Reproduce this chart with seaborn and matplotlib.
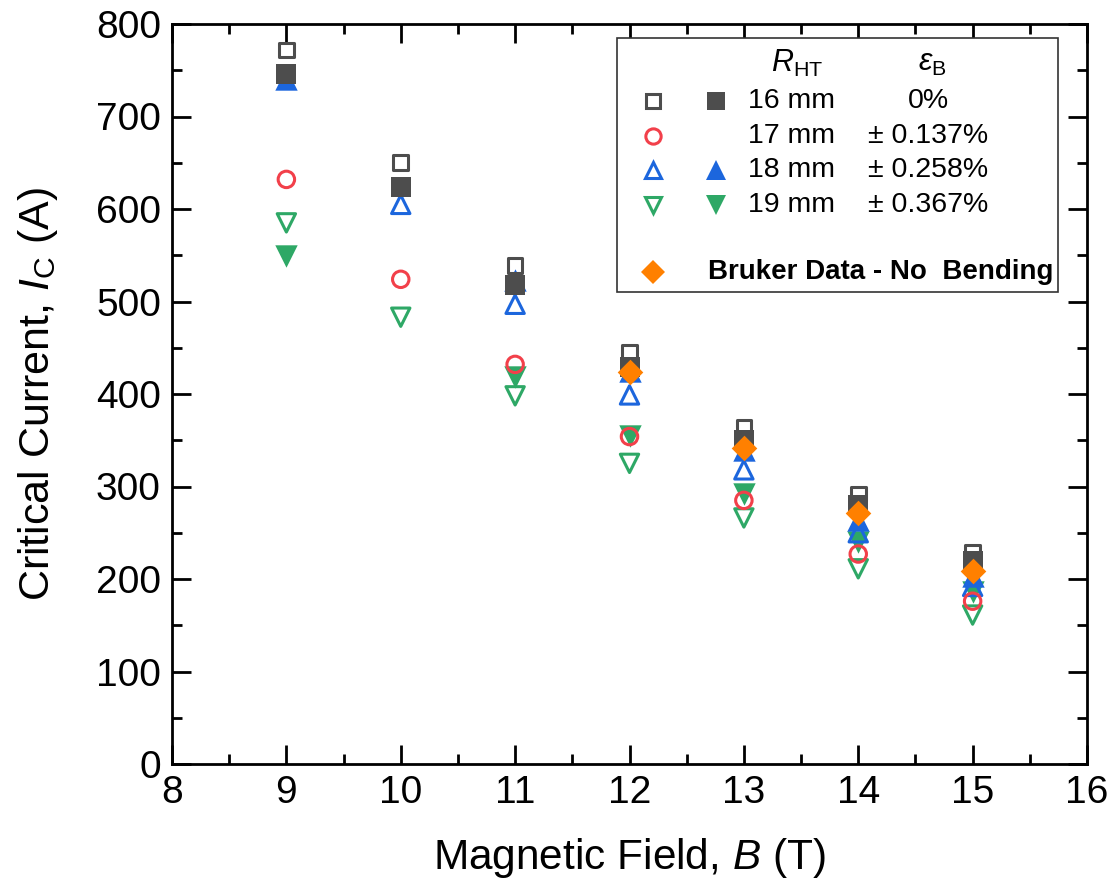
import numpy as np
import matplotlib
matplotlib.use("Agg")
import matplotlib.pyplot as plt
import seaborn as sns
from matplotlib.lines import Line2D
from matplotlib.patches import Rectangle
from matplotlib.ticker import MultipleLocator

# ---------------- data ----------------
field = [9, 10, 11, 12, 13, 14, 15]
nan = np.nan
r16_open = [772, 650, 539, 445, 364, 292, 229]
r16_filled = [746, 624, 518, 429, 350, 280, 220]
r17_open = [632, 524, 432, 354, 285, 227, 176]
r18_open = [nan, 605, 497, 399, 318, 250, 192]
r18_filled = [741, nan, 523, 425, 340, 264, 203]
r19_open = [585, 483, 398, 325, 266, 211, 161]
r19_filled = [549, nan, 418, 355, 292, 240, 186]
bruker_field = [12, 13, 14, 15]
bruker = [424, 342, 271, 209]

legend_radius = ["16 mm", "17 mm", "18 mm", "19 mm"]
legend_strain = ["0%", "\u00b1 0.137%", "\u00b1 0.258%", "\u00b1 0.367%"]

# ---------------- style ----------------
sns.set_theme(style="ticks")
plt.rcParams['font.family'] = ['Liberation Sans', 'DejaVu Sans']
plt.rcParams['mathtext.fontset'] = 'custom'
plt.rcParams['mathtext.rm'] = 'Liberation Sans'
plt.rcParams['mathtext.it'] = 'Liberation Sans:italic'
plt.rcParams['mathtext.bf'] = 'Liberation Sans:bold'
for k in ['text.color', 'axes.labelcolor', 'xtick.color', 'ytick.color', 'axes.edgecolor']:
    plt.rcParams[k] = 'black'

GRAY = '#4d4d4d'
RED = '#f2404a'
BLUE = '#1c66dd'
GREEN = '#2ea866'
ORANGE = '#ff8000'

fig = plt.figure(figsize=(11.16, 8.91), dpi=100)
ax = fig.add_axes([172/1116, 1-764/891, (1087-172)/1116, (764-24)/891])

def draw(x, y, marker, color, filled, size, z):
    if filled:
        sns.scatterplot(x=x, y=y, marker=marker, s=size, color=color,
                        edgecolor=color, linewidth=0, ax=ax, zorder=z, legend=False)
    else:
        sns.scatterplot(x=x, y=y, marker=marker, s=size, facecolors='none',
                        edgecolor=color, linewidth=2.2, ax=ax, zorder=z, legend=False)

draw(field, r19_filled, 'v', GREEN, True, 260, 3)
draw(field, r18_filled, '^', BLUE, True, 260, 3.1)
draw(field, r19_open, 'v', GREEN, False, 175, 3.2)
draw(field, r18_open, '^', BLUE, False, 175, 3.3)
draw(field, r17_open, 'o', RED, False, 140, 3.4)
draw(field, r16_open, 's', GRAY, False, 110, 3.5)
draw(field, r16_filled, 's', GRAY, True, 190, 3.6)
draw(bruker_field, bruker, 'D', ORANGE, True, 170, 3.7)

ax.set_xlim(8, 16)
ax.set_ylim(0, 800)
ax.xaxis.set_major_locator(MultipleLocator(1))
ax.xaxis.set_minor_locator(MultipleLocator(0.5))
ax.yaxis.set_major_locator(MultipleLocator(100))
ax.yaxis.set_minor_locator(MultipleLocator(50))
ax.tick_params(which='both', direction='in', top=True, right=True,
               labeltop=False, labelright=False, width=2, color='black')
ax.tick_params(which='major', length=14, labelsize=28, pad=8)
ax.tick_params(which='minor', length=7)
for s in ax.spines.values():
    s.set_linewidth(2)
    s.set_color('black')
    s.set_visible(True)

ax.set_xlabel('Magnetic Field, $B$ (T)', fontsize=30.5, labelpad=18)
ax.set_ylabel('Critical Current, $I_{\\mathrm{C}}$ (A)', fontsize=31, labelpad=26)

# ---------------- custom legend ----------------
def axc(px, py):
    return ((px - 172) / 915, (764 - py) / 740)

x0, y0 = axc(617, 292)
x1, y1 = axc(1058, 38)
ax.add_patch(Rectangle((x0, y0), x1 - x0, y1 - y0, transform=ax.transAxes,
                       facecolor='white', edgecolor='#333333', linewidth=1.2, zorder=5))

hx, hy = axc(797, 63)
ax.text(hx, hy, r'$R_{\mathrm{HT}}$', transform=ax.transAxes, fontsize=22,
        ha='center', va='center', zorder=6)
ex, ey = axc(932, 63)
ax.text(ex, ey, r'$\varepsilon_{\mathrm{B}}$', transform=ax.transAxes, fontsize=22,
        ha='center', va='center', zorder=6)

rows_py = [101, 136, 170, 205]
open_specs = [('s', GRAY, 9.5), ('o', RED, 11), ('^', BLUE, 12), ('v', GREEN, 12)]
filled_specs = [('s', GRAY, 12.5), None, ('^', BLUE, 15), ('v', GREEN, 15)]
for i, py in enumerate(rows_py):
    mx, my = axc(653, py)
    m, c, ms = open_specs[i]
    ax.add_line(Line2D([mx], [my], marker=m, markersize=ms, markerfacecolor='none',
                       markeredgecolor=c, markeredgewidth=2.2, linestyle='none',
                       transform=ax.transAxes, zorder=6))
    if filled_specs[i] is not None:
        fx, fy = axc(716, py)
        m, c, ms = filled_specs[i]
        ax.add_line(Line2D([fx], [fy], marker=m, markersize=ms, markerfacecolor=c,
                           markeredgecolor=c, markeredgewidth=0, linestyle='none',
                           transform=ax.transAxes, zorder=6))
    tx, ty = axc(748, py)
    ax.text(tx, ty, legend_radius[i], transform=ax.transAxes, fontsize=20.5,
            ha='left', va='center', zorder=6)
    sx, sy = axc(928, py)
    ax.text(sx, sy, legend_strain[i], transform=ax.transAxes, fontsize=20.5,
            ha='center', va='center', zorder=6)

bx, by = axc(653, 272)
ax.add_line(Line2D([bx], [by], marker='D', markersize=12, markerfacecolor=ORANGE,
                   markeredgecolor=ORANGE, markeredgewidth=0, linestyle='none',
                   transform=ax.transAxes, zorder=6))
btx, bty = axc(708, 272)
ax.text(btx, bty, 'Bruker Data - No  Bending', transform=ax.transAxes, fontsize=20,
        fontweight='bold', ha='left', va='center', zorder=6)

fig.savefig('out.png', dpi=100)
